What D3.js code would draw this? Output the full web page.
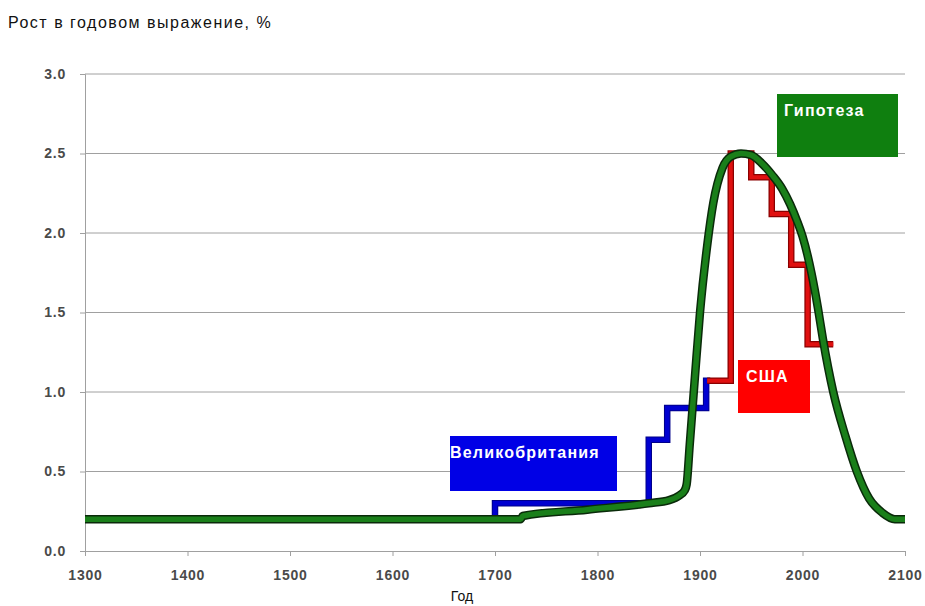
<!DOCTYPE html>
<html><head><meta charset="utf-8">
<script src="https://cdn.jsdelivr.net/npm/d3@7"></script>
<style>body{margin:0;background:#fff;}svg{display:block;font-family:"Liberation Sans",Arial,sans-serif;}</style>
</head><body>
<svg id="c" width="925" height="606"></svg>
<script>
const xTicks = [1300,1400,1500,1600,1700,1800,1900,2000,2100];
const yTicks = [0,0.5,1,1.5,2,2.5,3];
// Great Britain step series: [year, value] (value holds until next year)
const ukYears  = [1300,1700,1850,1868,1906,1910];
const ukValues = [0.2, 0.3, 0.7, 0.9, 1.07,1.07];
// USA step series
const usYears  = [1907,1930,1950,1970,1989,2005,2030];
const usValues = [1.07,2.5, 2.35,2.12,1.8, 1.3, 1.3];
// Hypothesis curve
const hypYears  = [1300,1725,1727,1790,1850,1870,1880,1885,1887,1890,1895,1900,1907,1913,1922,1930,1940,1950,1960,1971,1980,1988,1995,2000,2009,2015,2020,2030,2042,2053,2065,2078,2090,2100];
const hypValues = [0.2, 0.2, 0.22,0.26,0.3, 0.32,0.35,0.38,0.42,0.67,1.09,1.5, 1.92,2.19,2.41,2.48,2.5, 2.49,2.44,2.36,2.28,2.18,2.07,1.98,1.74,1.53,1.33,1.0, 0.72,0.5, 0.33,0.24,0.2, 0.2];

const svg = d3.select("#c");
const x = d3.scaleLinear().domain([1300,2100]).range([85,905]);
const y = d3.scaleLinear().domain([0,3]).range([551,74]);

// grid
svg.append("g").selectAll("line").data(yTicks.filter(d=>d>0)).join("line")
  .attr("x1",x(1300)).attr("x2",x(2100)).attr("y1",d=>y(d)).attr("y2",d=>y(d))
  .attr("stroke","#a0a0a0").attr("stroke-width",1);

const yAxis = svg.append("g").attr("transform",`translate(${x(1300)},0)`)
  .call(d3.axisLeft(y).tickValues(yTicks).tickFormat(d3.format(".1f")).tickSize(5).tickPadding(14));
const xAxis = svg.append("g").attr("transform",`translate(0,${y(0)})`)
  .call(d3.axisBottom(x).tickValues(xTicks).tickFormat(d3.format("d")).tickSize(5).tickPadding(14));
[yAxis,xAxis].forEach(g=>{
  g.select(".domain").attr("stroke","#a0a0a0");
  g.selectAll(".tick line").attr("stroke","#a0a0a0");
  g.selectAll("text").attr("fill","#4a4a4a").attr("font-weight","bold").attr("font-size","14px")
   .attr("letter-spacing","0.8px");
});

function stepData(ys,vs){return ys.map((yr,i)=>[yr,vs[i]]);}
const stepLine = d3.line().x(d=>x(d[0])).y(d=>y(d[1])).curve(d3.curveStepAfter);
const smooth = d3.line().x(d=>x(d[0])).y(d=>y(d[1])).curve(d3.curveMonotoneX);

// UK
svg.append("path").datum(stepData(ukYears,ukValues)).attr("d",stepLine)
  .attr("fill","none").attr("stroke","#00008a").attr("stroke-width",6.5);
svg.append("path").datum(stepData(ukYears,ukValues)).attr("d",stepLine)
  .attr("fill","none").attr("stroke","#0000d0").attr("stroke-width",4.5);
// USA
svg.append("path").datum(stepData(usYears,usValues)).attr("d",stepLine)
  .attr("fill","none").attr("stroke","#8a0000").attr("stroke-width",6.5);
svg.append("path").datum(stepData(usYears,usValues)).attr("d",stepLine)
  .attr("fill","none").attr("stroke","#e01010").attr("stroke-width",4);
// Hypothesis
const hyp = stepData(hypYears,hypValues);
svg.append("path").datum(hyp).attr("d",smooth)
  .attr("fill","none").attr("stroke","#0a2a0a").attr("stroke-width",8.5);
svg.append("path").datum(hyp).attr("d",smooth)
  .attr("fill","none").attr("stroke","#1a7f1a").attr("stroke-width",5.5);

// label boxes
function box(x0,y0,w,h,fill,label,dx){
  svg.append("rect").attr("x",x0).attr("y",y0).attr("width",w).attr("height",h).attr("fill",fill);
  svg.append("text").attr("x",x0+dx).attr("y",y0+22).attr("fill","#fff").attr("font-weight","bold")
    .attr("font-size","16px").attr("letter-spacing","1.2px").text(label);
}
box(450,436,167,55,"#0000e6","Великобритания",0);
box(738,360,72,53,"#ff0000","США",8);
box(777,94,121,63,"#0f7f0f","Гипотеза",7);

svg.append("text").attr("x",8).attr("y",28).attr("font-size","16px").attr("letter-spacing","1.5px").attr("fill","#111")
  .text("Рост в годовом выражение, %");
svg.append("text").attr("x",462).attr("y",601).attr("text-anchor","middle").attr("font-size","14px").attr("fill","#111")
  .text("Год");
</script>
</body></html>
